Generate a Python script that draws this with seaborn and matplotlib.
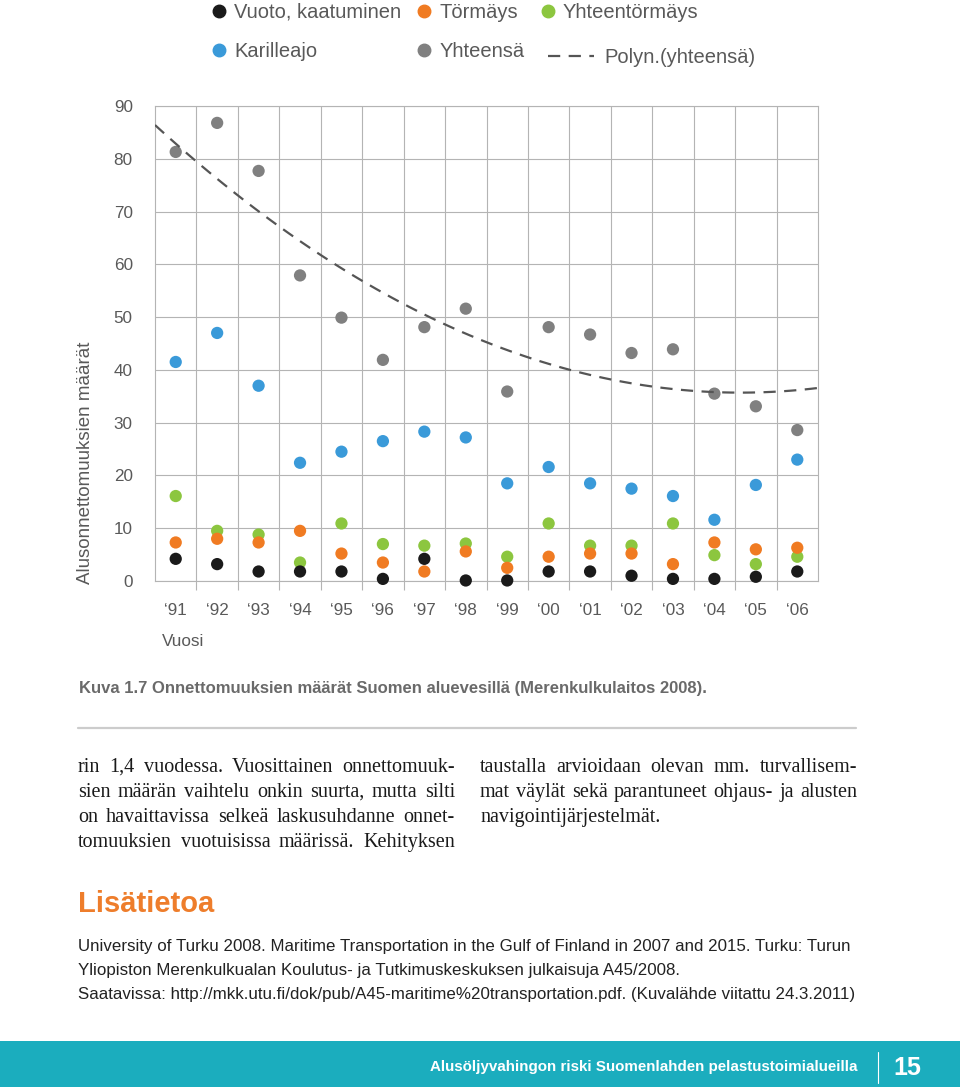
import numpy as np
import pandas as pd
import matplotlib
matplotlib.use("Agg")
import matplotlib.pyplot as plt
from matplotlib.lines import Line2D
from matplotlib.patches import Rectangle
import seaborn as sns

# data
years = ["‘91", "‘92", "‘93", "‘94", "‘95", "‘96", "‘97", "‘98",
         "‘99", "‘00", "‘01", "‘02", "‘03", "‘04", "‘05", "‘06"]
vuoto = [4.2, 3.2, 1.8, 1.8, 1.8, 0.4, 4.2, 0.1, 0.1, 1.8, 1.8, 1.0, 0.4, 0.4, 0.8, 1.8]
tormays = [7.3, 8.0, 7.3, 9.5, 5.2, 3.5, 1.8, 5.6, 2.5, 4.6, 5.2, 5.2, 3.2, 7.3, 6.0, 6.3]
yhteentormays = [16.1, 9.5, 8.8, 3.5, 10.9, 7.0, 6.7, 7.1, 4.6, 10.9, 6.7, 6.7, 10.9, 4.9, 3.2, 4.6]
karilleajo = [41.5, 47.0, 37.0, 22.4, 24.5, 26.5, 28.3, 27.2, 18.5, 21.6, 18.5, 17.5, 16.1, 11.6, 18.2, 23.0]
yhteensa = [81.3, 86.8, 77.7, 57.9, 49.9, 41.9, 48.1, 51.6, 35.9, 48.1, 46.7, 43.2, 43.9, 35.5, 33.1, 28.6]

series = ["Yhteensä", "Karilleajo", "Yhteentörmäys", "Törmäys", "Vuoto, kaatuminen"]
colors = {"Vuoto, kaatuminen": "#1a1a1a", "Törmäys": "#f07b22",
          "Yhteentörmäys": "#8cc63f", "Karilleajo": "#3a9ad9", "Yhteensä": "#808080"}

W, H = 960, 1087
def fx(px):
    return px / W
def fy(py):
    return 1 - py / H

txt = "#595959"
grid = "#b4b4b4"

sns.set_theme(style="white")
plt.rcParams["font.family"] = ["Liberation Sans", "DejaVu Sans"]

fig = plt.figure(figsize=(9.6, 10.87), dpi=100)
ax = fig.add_axes([fx(155), fy(581), fx(818) - fx(155), fy(106) - fy(581)])

x = np.arange(len(years))
df = pd.DataFrame({
    "x": np.tile(x, 5),
    "value": yhteensa + karilleajo + yhteentormays + tormays + vuoto,
    "sarja": np.repeat(series, len(years)),
})

ax.set_xlim(-0.5, len(years) - 0.5)
ax.set_ylim(0, 90)

sns.scatterplot(data=df, x="x", y="value", hue="sarja", hue_order=series,
                palette=colors, s=78, linewidth=0, legend=False,
                clip_on=False, zorder=3, ax=ax)
sns.regplot(x=x, y=np.array(yhteensa), order=2, scatter=False, ci=None,
            truncate=False, ax=ax,
            line_kws=dict(color="#555555", lw=1.6, ls=(0, (5.5, 3.8)), zorder=4))

# axes styling
ax.set_yticks(np.arange(0, 91, 10))
ax.set_xticks(x, years)
ax.set_xticks(np.arange(0.5, len(years) - 1), minor=True)
ax.grid(axis="y", color=grid, lw=0.8)
ax.grid(axis="x", which="minor", color=grid, lw=0.8)
ax.grid(axis="x", which="major", visible=False)
for s in ax.spines.values():
    s.set_color(grid)
    s.set_linewidth(0.8)
ax.tick_params(axis="y", length=0, pad=16, labelsize=12.3, labelcolor=txt)
ax.tick_params(axis="x", which="major", length=0, pad=16, labelsize=12.3, labelcolor=txt)
ax.tick_params(axis="x", which="minor", bottom=True, length=6.5, width=0.8,
               color=grid, direction="out")
ax.set_xlabel("")
ax.set_ylabel("")

fig.text(fx(86), fy(584), "Alusonnettomuuksien määrät", rotation=90,
         ha="center", va="bottom", fontsize=13.5, color=txt)
fig.text(fx(162), fy(641), "Vuosi", ha="left", va="center", fontsize=12.3, color=txt)

# legend
order = ["Vuoto, kaatuminen", "Karilleajo", "Törmäys", "Yhteensä", "Yhteentörmäys"]
dots = [Line2D([], [], ls="", marker="o", ms=9, color=colors[k]) for k in order]
fig.legend(dots, order, ncol=3, loc="upper left",
           bbox_to_anchor=(fx(211), fy(3)), frameon=False, fontsize=14.5,
           handlelength=0.8, handletextpad=0.35, columnspacing=0.75,
           labelspacing=1.0, borderpad=0, borderaxespad=0, labelcolor=txt)
dash = Line2D([], [], color="#555555", lw=1.6, ls=(0, (5.5, 3.8)))
fig.legend([dash], ["Polyn.(yhteensä)"], loc="upper left",
           bbox_to_anchor=(fx(548), fy(48)), frameon=False, fontsize=14.5,
           handlelength=2.3, handletextpad=0.5, borderpad=0, borderaxespad=0,
           labelcolor=txt)

# caption and page text
fig.text(fx(79), fy(689), "Kuva 1.7 Onnettomuuksien määrät Suomen aluevesillä (Merenkulkulaitos 2008).",
         ha="left", va="center", fontsize=12, fontweight="bold", color="#6a6a6a")
fig.add_artist(Line2D([fx(78), fx(856)], [fy(728), fy(728)], color="#cccccc", lw=1.6))

renderer = fig.canvas.get_renderer()

def justified(line, x0, x1, y, last=False, **kw):
    words = line.split()
    widths = []
    for w in words:
        t = fig.text(0, 0, w, **kw)
        widths.append(t.get_window_extent(renderer).width)
        t.remove()
    if last or len(words) < 2:
        fig.text(fx(x0), fy(y), line, ha="left", va="center", **kw)
        return
    gap = (x1 - x0 - sum(widths)) / (len(words) - 1)
    pos = x0
    for w, wd in zip(words, widths):
        fig.text(fx(pos), fy(y), w, ha="left", va="center", **kw)
        pos += wd + gap

serif = dict(fontsize=14.5, family=["Liberation Serif", "DejaVu Serif"], color="#1a1a1a")
left_col = ["rin 1,4 vuodessa. Vuosittainen onnettomuuk-",
            "sien määrän vaihtelu onkin suurta, mutta silti",
            "on havaittavissa selkeä laskusuhdanne onnet-",
            "tomuuksien vuotuisissa määrissä. Kehityksen"]
right_col = ["taustalla arvioidaan olevan mm. turvallisem-",
             "mat väylät sekä parantuneet ohjaus- ja alusten",
             "navigointijärjestelmät."]
for i, line in enumerate(left_col):
    justified(line, 78, 455, 767 + i * 25.3, **serif)
for i, line in enumerate(right_col):
    justified(line, 480, 857, 767 + i * 25.3, last=(i == len(right_col) - 1), **serif)

fig.text(fx(78), fy(904), "Lisätietoa", ha="left", va="center", fontsize=21,
         fontweight="bold", color="#ee7d2b")
refs = ["University of Turku 2008. Maritime Transportation in the Gulf of Finland in 2007 and 2015. Turku: Turun",
        "Yliopiston Merenkulkualan Koulutus- ja Tutkimuskeskuksen julkaisuja A45/2008.",
        "Saatavissa: http://mkk.utu.fi/dok/pub/A45-maritime%20transportation.pdf. (Kuvalähde viitattu 24.3.2011)"]
for i, line in enumerate(refs):
    fig.text(fx(78), fy(947 + i * 23.5), line, ha="left", va="center",
             fontsize=12.2, color="#222222")

# footer band
fig.add_artist(Rectangle((0, 0), 1, fy(1041), transform=fig.transFigure,
                         color="#1badbe", lw=0))
fig.text(fx(857), fy(1067), "Alusöljyvahingon riski Suomenlahden pelastustoimialueilla",
         ha="right", va="center", fontsize=10.9, fontweight="bold", color="white")
fig.add_artist(Line2D([fx(878), fx(878)], [fy(1052), fy(1083)], color="white", lw=0.8))
fig.text(fx(893), fy(1068), "15", ha="left", va="center", fontsize=18,
         fontweight="bold", color="white")

fig.savefig("out.png", dpi=100)
